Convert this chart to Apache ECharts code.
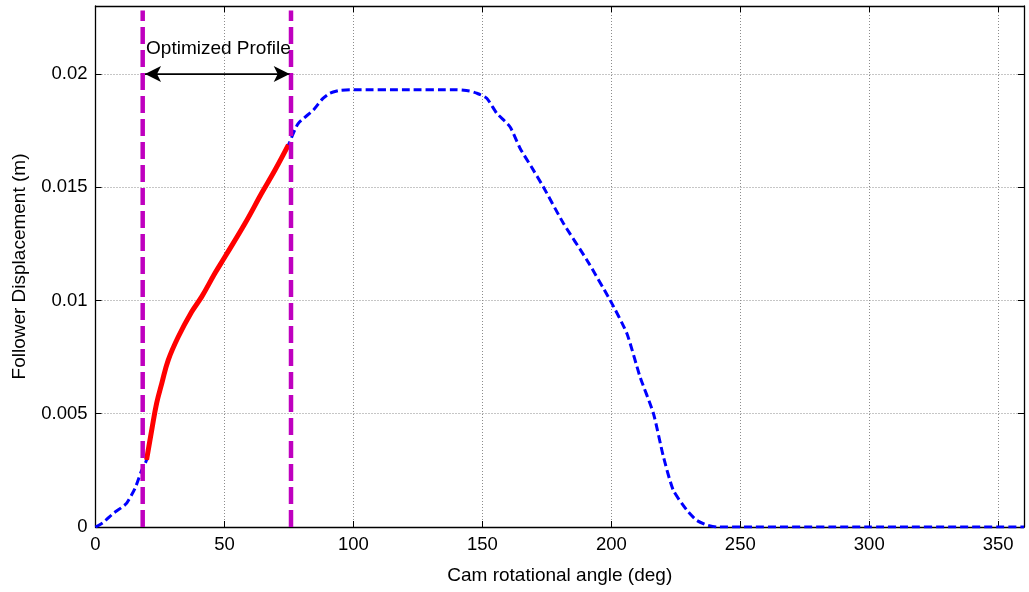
<!DOCTYPE html>
<html>
<head>
<meta charset="utf-8">
<script src="https://cdn.jsdelivr.net/npm/echarts@6/dist/echarts.min.js"></script>
<style>html,body{margin:0;padding:0;background:#fff;}#c{width:1029px;height:592px;}</style>
</head>
<body>
<div id="c"></div>
<script>
// Full follower displacement profile (blue dashed)
const blueX = [0, 3, 6.9, 10, 12.1, 15.3, 17.9, 19.8, 21.8, 23.7, 25.7, 28.2, 32.1, 37.3, 41.2, 46.3, 50.2, 58, 64.4, 69.6, 74.8, 78.5, 84.5, 88, 90.9, 95, 100, 120, 140, 145, 147.8, 151.7, 155.6, 160.7, 164.6, 169, 173.6, 181.4, 190.5, 199.5, 206, 211.1, 216.3, 220.2, 224, 229.2, 233, 237, 241, 300, 360];
const blueY = [0, 0.0002, 0.0006, 0.00085, 0.00105, 0.0017, 0.0025, 0.00296, 0.00428, 0.00546, 0.00634, 0.00737, 0.0084, 0.0095, 0.01017, 0.0112, 0.01193, 0.01341, 0.01473, 0.01576, 0.01687, 0.0178, 0.01841, 0.0189, 0.01915, 0.01928, 0.0193, 0.0193, 0.0193, 0.01925, 0.01915, 0.01893, 0.01826, 0.01767, 0.01672, 0.0159, 0.01502, 0.01341, 0.01179, 0.01002, 0.00855, 0.00664, 0.00502, 0.0031, 0.00163, 0.00075, 0.0003, 0.00009, 0, 0, 0];
// Optimized portion (red)
const redX = [19.8, 21.8, 23.7, 25.7, 28.2, 32.1, 37.3, 41.2, 46.3, 50.2, 58, 64.4, 69.6, 74.8];
const redY = [0.00296, 0.00428, 0.00546, 0.00634, 0.00737, 0.0084, 0.0095, 0.01017, 0.0112, 0.01193, 0.01341, 0.01473, 0.01576, 0.01687];
// Boundaries of optimized region
const boundX = [18.3, 75.8];
const boundY = [0, 0.0228];
const arrowX = [19.2, 75.3];
const arrowY = 0.02;
const annotText = 'Optimized Profile';
const annotPos = [19.6, 0.0211];
const xTicks = [0, 50, 100, 150, 200, 250, 300, 350];
const yTicks = [0, 0.005, 0.01, 0.015, 0.02];

const zip = (a, b) => a.map((v, i) => [v, b[i]]);
const font = 'Liberation Sans, Arial, sans-serif';
const chart = echarts.init(document.getElementById('c'));
const gridLine = {show: true, lineStyle: {color: '#8c8c8c', type: [1, 2], width: 1}};
const baseX = {
  type: 'value', min: 0, max: 360, interval: 50,
  axisLine: {show: true, onZero: false, lineStyle: {color: '#000', width: 1.3}},
  axisTick: {show: true, inside: true, length: 6, lineStyle: {color: '#000'}},
};
const baseY = {
  type: 'value', min: 0, max: 0.023, interval: 0.005,
  axisLine: {show: true, onZero: false, lineStyle: {color: '#000', width: 1.3}},
  axisTick: {show: true, inside: true, length: 6, lineStyle: {color: '#000'}},
};
chart.setOption({
  animation: false,
  backgroundColor: '#fff',
  grid: {left: 95.5, right: 5, top: 6, bottom: 65, containLabel: false},
  xAxis: [
    Object.assign({}, baseX, {
      position: 'bottom',
      name: 'Cam rotational angle (deg)', nameLocation: 'middle', nameGap: 39,
      nameTextStyle: {fontFamily: font, fontSize: 19, color: '#000'},
      axisLabel: {show: true, showMaxLabel: false, margin: 8, fontFamily: font, fontSize: 18.5, color: '#000',
        formatter: v => xTicks.includes(v) ? String(v) : ''},
      splitLine: gridLine
    }),
    Object.assign({}, baseX, {position: 'top', axisLabel: {show: false}, splitLine: {show: false}})
  ],
  yAxis: [
    Object.assign({}, baseY, {
      position: 'left',
      name: 'Follower Displacement (m)', nameLocation: 'middle', nameGap: 66,
      nameTextStyle: {fontFamily: font, fontSize: 19, color: '#000'},
      axisLabel: {show: true, showMaxLabel: false, margin: 8, fontFamily: font, fontSize: 18.5, color: '#000',
        formatter: v => { const t = yTicks.find(k => Math.abs(k - v) < 1e-9); return t === undefined ? '' : String(t); }},
      splitLine: gridLine
    }),
    Object.assign({}, baseY, {position: 'right', axisLabel: {show: false}, splitLine: {show: false}})
  ],
  series: [
    {
      type: 'line', data: zip(blueX, blueY), showSymbol: false, smooth: 0.2,
      lineStyle: {color: '#0000ff', width: 3, type: [8, 4]}, z: 3
    },
    {
      type: 'line', data: zip(redX, redY), showSymbol: false, smooth: 0.4,
      lineStyle: {color: '#ff0000', width: 5}, z: 4
    },
    {
      type: 'line', data: zip([boundX[0], boundX[0]], boundY), showSymbol: false,
      lineStyle: {color: '#bf00bf', width: 4.5, type: [17, 6]}, z: 5
    },
    {
      type: 'line', data: zip([boundX[1], boundX[1]], boundY), showSymbol: false,
      lineStyle: {color: '#bf00bf', width: 4.5, type: [17, 6]}, z: 5
    },
    {
      type: 'line', data: zip(arrowX, [arrowY, arrowY]), showSymbol: false,
      lineStyle: {color: '#000', width: 1.2}, z: 6,
      markLine: {
        silent: true, symbol: ['arrow', 'arrow'], symbolSize: [12, 16],
        lineStyle: {color: '#000', width: 1.2, type: 'solid'},
        label: {show: false},
        data: [[{coord: [arrowX[0], arrowY]}, {coord: [arrowX[1], arrowY]}]]
      }
    },
    {
      type: 'scatter', data: [annotPos], symbolSize: 0, z: 7,
      itemStyle: {color: '#000', opacity: 1},
      label: {show: true, position: 'right', distance: 0, formatter: '{a|' + annotText + '}',
        rich: {a: {fontFamily: font, fontSize: 19, color: '#000'}}}
    }
  ]
});
</script>
</body>
</html>
